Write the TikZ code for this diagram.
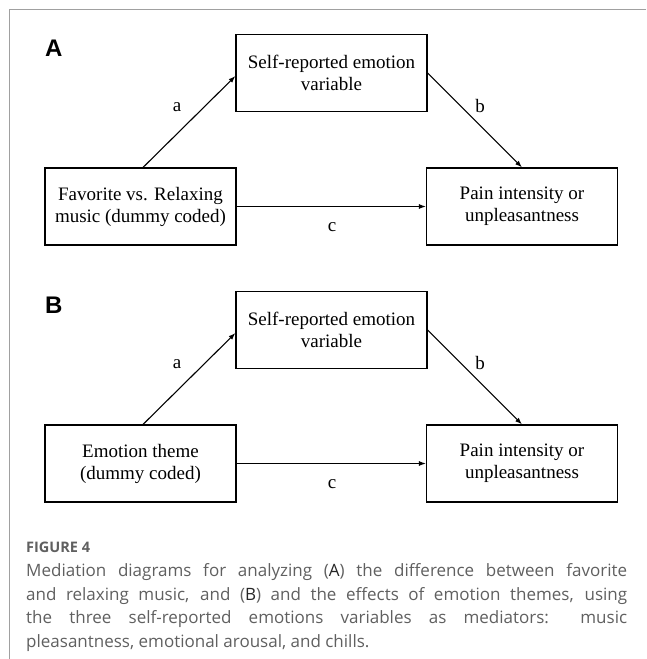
\documentclass[tikz,border=0pt]{standalone}
\usepackage{fontspec}
\setmainfont{Liberation Serif}
\newfontfamily\panelfont{Liberation Sans}
\newfontfamily\capfont{Open Sans}
\usetikzlibrary{arrows.meta}
\definecolor{framegray}{HTML}{A0A0A0}
\definecolor{capgray}{HTML}{606060}
\begin{document}
\begin{tikzpicture}[x=1pt,y=-1pt,
  box/.style={draw, line width=1.1pt, minimum width=191pt, minimum height=77pt, inner sep=0pt, align=center, font=\fontsize{19}{22}\selectfont},
  conn/.style={line width=1.1pt, -{Latex[length=7pt,width=5pt]}},
  lbl/.style={font=\fontsize{19}{22}\selectfont, inner sep=0pt},
  panel/.style={font=\panelfont\bfseries\fontsize{24}{24}\selectfont, inner sep=0pt, anchor=base west},
  capline/.style={font=\capfont\fontsize{17}{20}\selectfont, text=capgray, inner sep=0pt, anchor=base west}
]
\useasboundingbox (0,0) rectangle (646,659);
\fill[white] (0,0) rectangle (646,659);
\draw[framegray, line width=1pt] (646,9) -- (9,9) -- (9,659);

% Panel A
\node[panel] (pA) at (45,56) {A};
\node[box] (M1) at (331.5,73) {Self-reported emotion\\variable};
\node[box] (X1) at (140.5,206.5) {Favorite vs. Relaxing\\music (dummy coded)};
\node[box] (Y1) at (522,206.5) {Pain intensity or\\unpleasantness};
\draw[conn] ([xshift=2.5pt]X1.north) -- ([yshift=-3pt]M1.west);
\draw[conn] (M1.east) -- (Y1.north);
\draw[conn] (X1.east) -- (Y1.west);
\node[lbl] (la1) at (177,107) {a};
\node[lbl] (lb1) at (480,106) {b};
\node[lbl] (lc1) at (332,227) {c};

% Panel B
\node[panel] (pB) at (45,313) {B};
\node[box] (M2) at (331.5,330) {Self-reported emotion\\variable};
\node[box] (X2) at (140.5,463.5) {Emotion theme\\(dummy coded)};
\node[box] (Y2) at (522,463.5) {Pain intensity or\\unpleasantness};
\draw[conn] ([xshift=2.5pt]X2.north) -- ([yshift=-3pt]M2.west);
\draw[conn] (M2.east) -- (Y2.north);
\draw[conn] (X2.east) -- (Y2.west);
\node[lbl] (la2) at (177,364) {a};
\node[lbl] (lb2) at (480,363) {b};
\node[lbl] (lc2) at (332,484) {c};

% Caption
\node[capline, font=\capfont\bfseries\fontsize{14.5}{18}\selectfont] (fig) at (26,552) {FIGURE 4};
\node[capline] (cap1) at (26,576.5) {\makebox[601pt][s]{Mediation diagrams for analyzing ({\color{black!85}A}) the difference between favorite}};
\node[capline] (cap2) at (26,600) {\makebox[601pt][s]{and relaxing music, and ({\color{black!85}B}) and the effects of emotion themes, using}};
\node[capline] (cap3) at (26,623.5) {\makebox[601pt][s]{the three self-reported emotions variables as mediators: music}};
\node[capline] (cap4) at (26,647) {pleasantness, emotional arousal, and chills.};
\end{tikzpicture}
\end{document}
